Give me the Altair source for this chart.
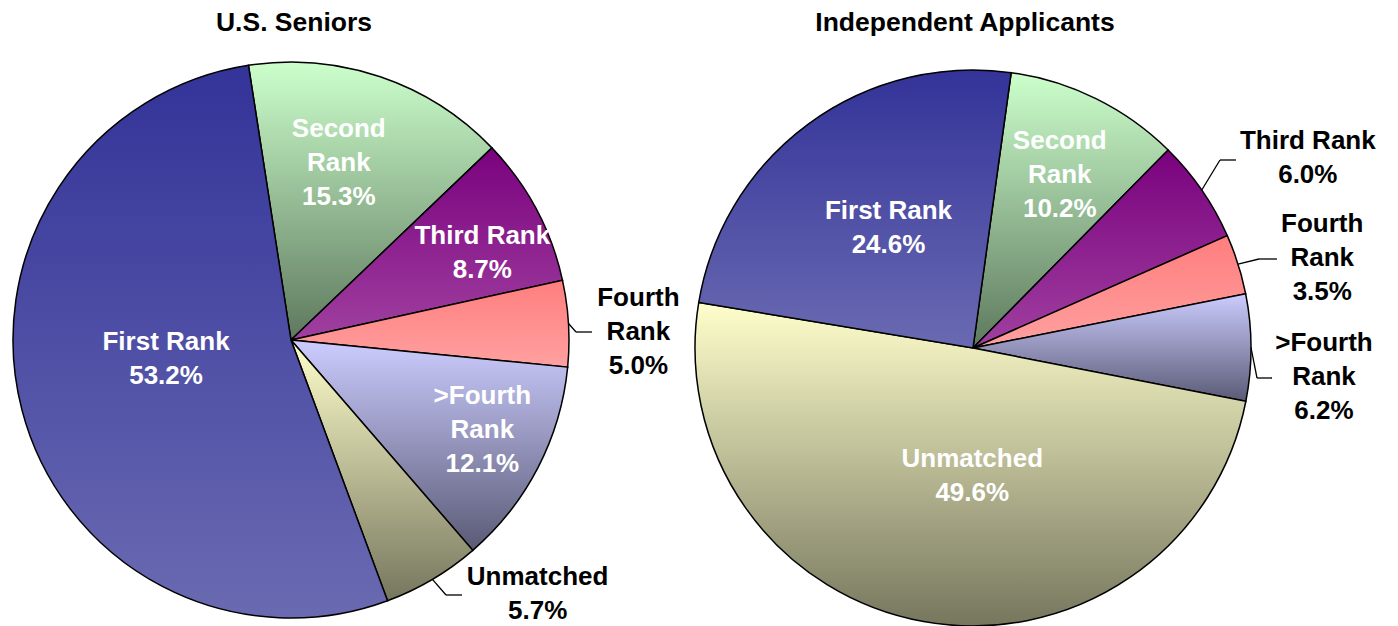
import math
import altair as alt
import pandas as pd

# ---------------- data ----------------
categories = ["Second Rank", "Third Rank", "Fourth Rank", ">Fourth Rank", "Unmatched", "First Rank"]
label_text = ["Second\nRank", "Third Rank", "Fourth\nRank", ">Fourth\nRank", "Unmatched", "First Rank"]
seniors_values = [15.3, 8.7, 5.0, 12.1, 5.7, 53.2]
independent_values = [10.2, 6.0, 3.5, 6.2, 49.6, 24.6]
titles = ["U.S. Seniors", "Independent Applicants"]

# ---------------- styles ----------------
FONT = "Liberation Sans"
GRAD = {
    "Second Rank": ("#CCFFCC", "#5E785E"),
    "Third Rank": ("#7A027E", "#A040A0"),
    "Fourth Rank": ("#FF7E7E", "#FFA0A0"),
    ">Fourth Rank": ("#CCCCFF", "#5A5A76"),
    "Unmatched": ("#FFFFCC", "#76765E"),
    "First Rank": ("#333399", "#6A6AB2"),
}


def make_df(values):
    return pd.DataFrame({
        "category": categories,
        "label": label_text,
        "value": values,
        "order": list(range(len(categories))),
    })


def pie(values, title, cx, cy, R, start_deg, label_layout, leaders, title_xy):
    s = math.radians(start_deg)
    tscale = alt.Scale(domain=[0, 1], range=[s, s + 2 * math.pi])
    base = alt.Chart(make_df(values)).transform_window(
        cum="sum(value)", sort=[alt.SortField("order")]
    ).transform_joinaggregate(
        total="sum(value)"
    ).transform_calculate(
        f0="(datum.cum - datum.value) / datum.total",
        f1="datum.cum / datum.total",
        fm="(datum.cum - datum.value / 2) / datum.total",
        txt="datum.label + '\\n' + format(datum.value, '.1f') + '%'",
    )
    layers = []
    for cat in categories:
        top, bottom = GRAD[cat]
        grad = alt.LinearGradient(
            gradient="linear",
            stops=[alt.GradientStop(color=top, offset=0), alt.GradientStop(color=bottom, offset=1)],
            x1=0, x2=0, y1=0, y2=1,
        )
        layers.append(
            base.transform_filter(alt.datum.category == cat)
            .mark_arc(outerRadius=R, fill=grad, stroke="black", strokeWidth=1.5)
            .encode(theta=alt.Theta("f0:Q", scale=tscale), theta2="f1:Q",
                    x=alt.value(cx), y=alt.value(cy))
        )
    for cat in categories:
        r, dx, dy, col = label_layout[cat]
        layers.append(
            base.transform_filter(alt.datum.category == cat)
            .mark_text(radius=r, dx=dx, dy=dy, font=FONT, fontSize=26, fontWeight="bold",
                       color=col, align="center", baseline="middle", lineBreak="\n", lineHeight=34)
            .encode(theta=alt.Theta("fm:Q", scale=tscale), x=alt.value(cx), y=alt.value(cy),
                    text="txt:N")
        )
    for cat, (ex, ey, ex2) in leaders.items():
        seg = base.transform_filter(alt.datum.category == cat).transform_calculate(
            ang=f"{s} + 2 * PI * datum.fm",
            lx=f"{cx} + {R} * sin(datum.ang)",
            ly=f"{cy} - {R} * cos(datum.ang)",
        )
        layers.append(
            seg.mark_rule(color="black", strokeWidth=1.3).encode(
                x=alt.X("lx:Q", scale=None, axis=None), y=alt.Y("ly:Q", scale=None, axis=None),
                x2=alt.value(ex), y2=alt.value(ey))
        )
        layers.append(
            base.transform_filter(alt.datum.category == cat).mark_rule(color="black", strokeWidth=1.3)
            .encode(x=alt.value(ex), x2=alt.value(ex2), y=alt.value(ey))
        )
    layers.append(
        alt.Chart(pd.DataFrame({"t": [title]})).mark_text(
            font=FONT, fontSize=26.5, fontWeight="bold", color="black", align="center", baseline="middle"
        ).encode(x=alt.value(title_xy[0]), y=alt.value(title_xy[1]), text="t:N")
    )
    return alt.layer(*layers)


# label layout: (radius, dx, dy, colour); anchor is the first text line
left_labels = {
    "Second Rank": (183, -11, -38, "white"),
    "Third Rank": (210, 6, -5, "white"),
    "Fourth Rank": (347, 1, -21, "black"),
    ">Fourth Rank": (211, 4, -41, "white"),
    "Unmatched": (300, 94, -21, "black"),
    "First Rank": (126, -3, -30, "white"),
}
left_leaders = {
    "Fourth Rank": (576, 332, 592),
    "Unmatched": (446, 595, 462),
}
right_labels = {
    "Second Rank": (194, 1, -33, "white"),
    "Third Rank": (385, 18, 12, "black"),
    "Fourth Rank": (360, 6, -15, "black"),
    ">Fourth Rank": (352, -1, -4, "black"),
    "Unmatched": (128, 22, -15, "white"),
    "First Rank": (146, 2, -19, "white"),
}
right_leaders = {
    "Third Rank": (1220, 160, 1236),
    "Fourth Rank": (1259, 259, 1277),
    ">Fourth Rank": (1257, 378, 1272),
}

left = pie(seniors_values, titles[0], 291, 340, 278, -8.8, left_labels, left_leaders, (294, 23))
right = pie(independent_values, titles[1], 973, 348, 278, 7.9, right_labels, right_leaders, (965, 23))

chart = alt.layer(left, right).resolve_scale(theta="independent").properties(
    width=1398, height=626, autosize="none", padding=0, background="white"
).configure_view(stroke=None)

chart.save("out.html", embed_options={"renderer": "svg", "actions": False})
